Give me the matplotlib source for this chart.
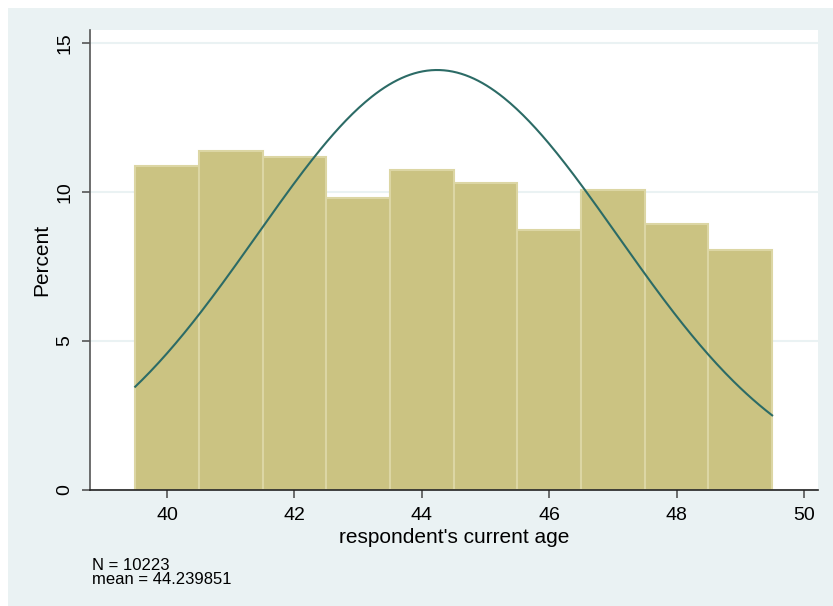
import numpy as np
import matplotlib.pyplot as plt
from matplotlib.patches import Rectangle

plt.rcParams['font.family'] = ['Liberation Sans', 'DejaVu Sans']

# histogram of respondent's age (percent per 1-year bin)
bin_left = [39.5, 40.5, 41.5, 42.5, 43.5, 44.5, 45.5, 46.5, 47.5, 48.5]
percent = [10.87, 11.38, 11.17, 9.80, 10.74, 10.30, 8.72, 10.07, 8.93, 8.05]
n_obs = 10223
mean_age = 44.239851
sd_age = 2.83

x_ticks = [40, 42, 44, 46, 48, 50]
y_ticks = [0, 5, 10, 15]

bar_color = "#cbc382"
bar_edge = "#dcd6a4"
line_color = "#2c6b66"
bg_color = "#eaf2f3"

fig = plt.figure(figsize=(8.33, 6.06), dpi=100)
fig.patch.set_facecolor("white")
fig.patches.append(Rectangle((8 / 833, 0), 1, 1 - 8 / 606, transform=fig.transFigure,
                             facecolor=bg_color, edgecolor="none", zorder=-1))

ax = fig.add_axes([90 / 833, 116 / 606, 728 / 833, 460 / 606])
ax.set_facecolor("white")

ax.bar(bin_left, percent, width=1.0, align="edge", color=bar_color,
       edgecolor=bar_edge, linewidth=1.5, zorder=2)

# normal density overlay scaled to percent
xs = np.linspace(bin_left[0], bin_left[-1] + 1, 300)
dens = 100 / (sd_age * np.sqrt(2 * np.pi)) * np.exp(-0.5 * ((xs - mean_age) / sd_age) ** 2)
ax.plot(xs, dens, color=line_color, linewidth=1.5, zorder=3)

ax.set_xlim(38.79, 50.22)
ax.set_ylim(0, 15.44)
ax.set_xticks(x_ticks)
ax.set_yticks(y_ticks)
ax.set_yticklabels([str(v) for v in y_ticks], rotation=90, va="center")
ax.tick_params(axis="both", direction="out", length=6, width=1.2, color="#555555",
               labelsize=14, pad=6)
ax.grid(axis="y", color=bg_color, linewidth=1.5, zorder=0)
ax.set_axisbelow(True)

for s in ["top", "right"]:
    ax.spines[s].set_visible(False)
ax.spines["left"].set_color("#555555")
ax.spines["bottom"].set_color("#222222")
ax.spines["left"].set_linewidth(1.2)
ax.spines["bottom"].set_linewidth(1.2)

ax.set_xlabel("respondent's current age", fontsize=15, labelpad=3)
ax.set_ylabel("Percent", fontsize=15, labelpad=4)

fig.text(92 / 833, 1 - 565 / 606, "N = %d" % n_obs, fontsize=12, va="center")
fig.text(92 / 833, 1 - 579 / 606, "mean = %.6f" % mean_age, fontsize=12, va="center")

fig.savefig("out.png", dpi=100)
